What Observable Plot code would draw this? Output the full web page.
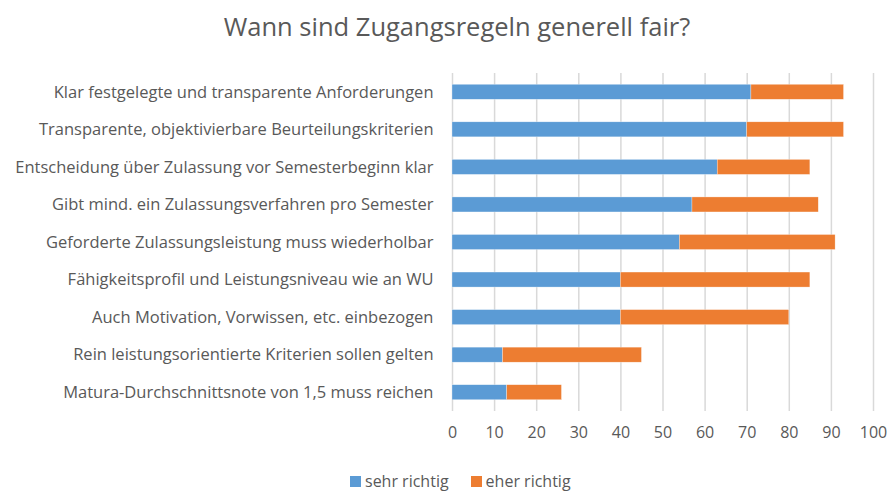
<!DOCTYPE html>
<html>
<head>
<meta charset="utf-8">
<script src="https://cdn.jsdelivr.net/npm/d3@7"></script>
<script src="https://cdn.jsdelivr.net/npm/@observablehq/plot@0.6"></script>
<style>
  html, body { margin: 0; padding: 0; background: #fff; overflow: hidden; }
  body { width: 890px; height: 491px; font-family: "Open Sans", Lato, sans-serif; color: #595959; position: relative; }
  #title { position: absolute; top: -2px; left: 12px; width: 890px; height: 56px; font-size: 25.5px; text-align: center; line-height: 56px; }
  #chart { position: absolute; top: 55px; left: 0; }
  #chart svg { display: block; }
  #legend { position: absolute; top: 472px; left: 350px; font-size: 16px; line-height: 18px; display: flex; align-items: center; }
  .sw { display: inline-block; width: 11px; height: 11px; margin-right: 4px; }
  .item { display: flex; align-items: center; margin-right: 22px; }
</style>
</head>
<body>
<div id="title">Wann sind Zugangsregeln generell fair?</div>
<div id="chart"></div>
<div id="legend"></div>
<script>
const categories = [
  "Klar festgelegte und transparente Anforderungen",
  "Transparente, objektivierbare Beurteilungskriterien",
  "Entscheidung über Zulassung vor Semesterbeginn klar",
  "Gibt mind. ein Zulassungsverfahren pro Semester",
  "Geforderte Zulassungsleistung muss wiederholbar",
  "Fähigkeitsprofil und Leistungsniveau wie an WU",
  "Auch Motivation, Vorwissen, etc. einbezogen",
  "Rein leistungsorientierte Kriterien sollen gelten",
  "Matura-Durchschnittsnote von 1,5 muss reichen"
];
const seriesNames = ["sehr richtig", "eher richtig"];
const sehrRichtig = [71, 70, 63, 57, 54, 40, 40, 12, 13];
const eherRichtig = [22, 23, 22, 30, 37, 45, 40, 33, 13];
const xTicks = [0, 10, 20, 30, 40, 50, 60, 70, 80, 90, 100];
const colors = ["#5B9BD5", "#ED7D31"];

const rows = [];
categories.forEach((c, i) => {
  rows.push({category: c, series: seriesNames[0], value: sehrRichtig[i]});
  rows.push({category: c, series: seriesNames[1], value: eherRichtig[i]});
});

const chart = Plot.plot({
  width: 890,
  height: 410,
  marginLeft: 452,
  marginRight: 17,
  marginTop: 18,
  marginBottom: 54,
  style: {fontFamily: "'Open Sans', Lato, sans-serif", fontSize: "16px", color: "#595959", background: "#fff"},
  x: {domain: [0, 100], ticks: xTicks},
  y: {domain: categories, padding: 0.6, paddingOuter: 0.3, round: false},
  color: {domain: seriesNames, range: colors},
  marks: [
    Plot.ruleX(xTicks, {stroke: "#d9d9d9", strokeWidth: 1.5}),
    Plot.barX(rows, {y: "category", x: "value", fill: "series", stroke: "#fff", strokeWidth: 0.5, strokeOpacity: 0.6}),
    Plot.axisX({ticks: xTicks, tickSize: 0, tickPadding: 15, label: null, fill: "#595959", fontSize: 16}),
    Plot.axisY({tickSize: 0, tickPadding: 19, label: null, fill: "#595959", fontSize: 16.5})
  ]
});
document.getElementById("chart").appendChild(chart);

const legend = document.getElementById("legend");
seriesNames.forEach((s, i) => {
  const item = document.createElement("div");
  item.className = "item";
  const sw = document.createElement("span");
  sw.className = "sw";
  sw.style.background = colors[i];
  item.appendChild(sw);
  item.appendChild(document.createTextNode(s));
  legend.appendChild(item);
});
</script>
</body>
</html>
